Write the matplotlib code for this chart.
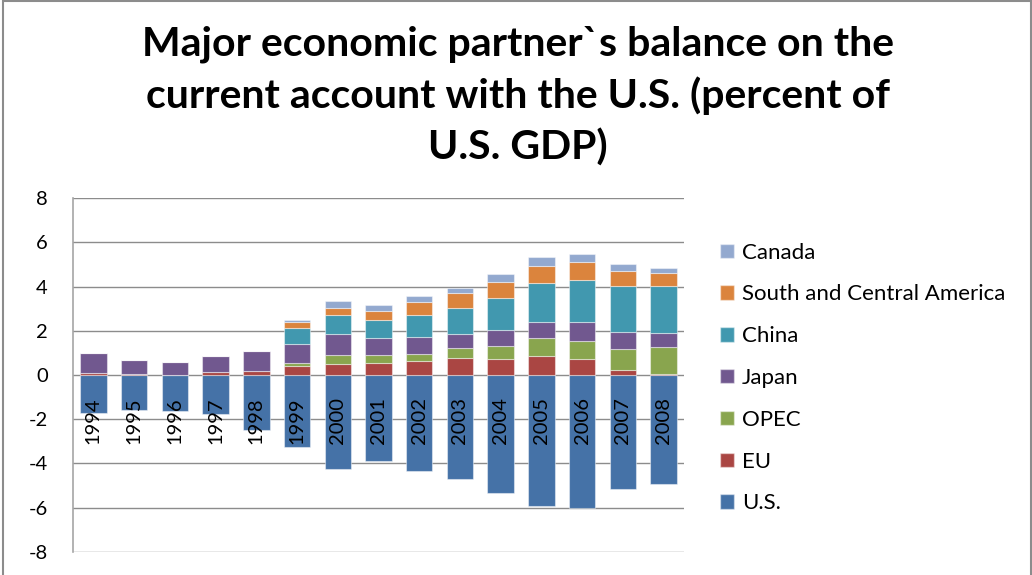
import numpy as np
import matplotlib
matplotlib.use("Agg")
import matplotlib.pyplot as plt
from matplotlib.patches import Patch, Rectangle

plt.rcParams['font.family'] = ['Lato', 'DejaVu Sans']
plt.rcParams['axes.unicode_minus'] = False

# datos (% del PIB de EE.UU.)
years = ["1994", "1995", "1996", "1997", "1998", "1999", "2000", "2001",
         "2002", "2003", "2004", "2005", "2006", "2007", "2008"]
us = [-1.73, -1.60, -1.64, -1.78, -2.49, -3.24, -4.24, -3.88, -4.33, -4.69,
      -5.34, -5.94, -6.02, -5.17, -4.93]
eu = [0.10, 0.03, 0.02, 0.14, 0.20, 0.40, 0.50, 0.56, 0.65, 0.77,
      0.71, 0.86, 0.71, 0.21, 0.06]
opec = [0, 0, 0, 0, 0, 0.15, 0.39, 0.33, 0.30, 0.44,
        0.60, 0.80, 0.85, 0.95, 1.19]
japan = [0.88, 0.65, 0.55, 0.72, 0.89, 0.84, 0.97, 0.77, 0.76, 0.65,
         0.74, 0.76, 0.86, 0.80, 0.67]
china = [0, 0, 0, 0, 0, 0.76, 0.84, 0.85, 0.99, 1.19,
         1.45, 1.75, 1.90, 2.06, 2.10]
sc_america = [0, 0, 0, 0, 0, 0.26, 0.35, 0.41, 0.62, 0.67,
              0.71, 0.75, 0.80, 0.71, 0.60]
canada = [0, 0, 0, 0, 0, 0.08, 0.30, 0.24, 0.24, 0.24,
          0.37, 0.41, 0.35, 0.29, 0.24]

series = [("U.S.", us, "#4572A7"),
          ("EU", eu, "#AA4643"),
          ("OPEC", opec, "#89A54E"),
          ("Japan", japan, "#71588F"),
          ("China", china, "#4198AF"),
          ("South and Central America", sc_america, "#DB843D"),
          ("Canada", canada, "#93A9CF")]

fig = plt.figure(figsize=(10.32, 5.75), dpi=100)
ax = fig.add_axes([0.0707, 0.0405, 0.5921, 0.6146])

x = np.arange(len(years))
bottom = np.zeros(len(years))
for name, vals, color in series:
    vals = np.array(vals)
    if name == "U.S.":
        ax.bar(x, vals, width=0.65, color=color, edgecolor=(1, 1, 1, 0.45),
               linewidth=0.8, zorder=2)
    else:
        ax.bar(x, vals, width=0.65, bottom=bottom, color=color,
               edgecolor=(1, 1, 1, 0.45), linewidth=0.8, zorder=2)
        bottom = bottom + vals

# etiquetas de años dentro de las barras
for i, y in enumerate(years):
    ax.annotate(y, xy=(i, 0), xytext=(0, -16), textcoords="offset points",
                rotation=90, ha="center", va="top", fontsize=14.5, zorder=3)

ax.set_xlim(-0.5, len(years) - 0.5)
ax.set_ylim(-8, 8)
ax.set_yticks(range(-8, 9, 2))
ax.set_xticks([])
ax.tick_params(axis="y", length=0, pad=18, labelsize=14.5)
ax.yaxis.grid(True, color="#8c8c8c", linewidth=1)
ax.set_axisbelow(True)
for s in ["top", "right", "bottom"]:
    ax.spines[s].set_visible(False)
ax.spines["left"].set_color("#a6a6a6")
ax.spines["left"].set_linewidth(1.2)

# leyenda (orden inverso, como en Excel)
handles = [Patch(facecolor=c, edgecolor=(1, 1, 1, 0.45)) for _, _, c in series][::-1]
labels = [n for n, _, _ in series][::-1]
fig.legend(handles, labels, loc="upper left", bbox_to_anchor=(0.698, 0.578),
           frameon=False, fontsize=16, handlelength=0.62, handleheight=0.62,
           handletextpad=0.35, labelspacing=0.98, borderpad=0, borderaxespad=0)

fig.text(0.502, 0.833,
         "Major economic partner`s balance on the\ncurrent account with the U.S. (percent of\nU.S. GDP)",
         ha="center", va="center", fontsize=29.5, fontweight="bold", linespacing=1.42)

# borde del gráfico
fig.patches.append(Rectangle((0.003, -0.01), 0.996, 1.009, transform=fig.transFigure,
                             fill=False, edgecolor="#8c8c8c", linewidth=1.5))

plt.savefig("out.png", dpi=100)
